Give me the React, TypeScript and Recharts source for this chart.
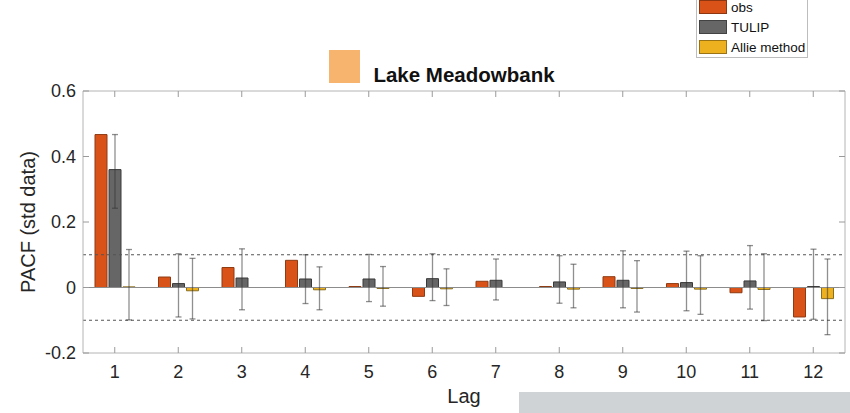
import { ComposedChart, Bar, Line, XAxis, YAxis, ReferenceLine, ErrorBar, Legend } from "recharts";

const lags = ["1", "2", "3", "4", "5", "6", "7", "8", "9", "10", "11", "12"];

const obs = [0.467, 0.032, 0.061, 0.083, 0.003, -0.027, 0.019, 0.003, 0.033, 0.012, -0.016, -0.09];

const tulip = [0.36, 0.012, 0.029, 0.026, 0.026, 0.027, 0.022, 0.017, 0.022, 0.015, 0.02, 0.003];
const tulipLow = [0.242, -0.09, -0.068, -0.049, -0.043, -0.04, -0.038, -0.048, -0.062, -0.071, -0.066, -0.097];
const tulipHigh = [0.467, 0.103, 0.118, 0.1, 0.101, 0.103, 0.087, 0.097, 0.112, 0.111, 0.128, 0.117];

const allie = [0.002, -0.01, 0, -0.007, -0.003, -0.004, 0, -0.005, -0.003, -0.005, -0.006, -0.034];
const allieLow = [-0.099, -0.096, -0.082, -0.068, -0.057, -0.055, -0.053, -0.062, -0.075, -0.082, -0.101, -0.144];
const allieHigh = [0.116, 0.089, 0.08, 0.063, 0.064, 0.057, 0.07, 0.071, 0.082, 0.097, 0.103, 0.087];

const seriesNames = ["obs", "TULIP", "Allie method"];
const yTicks = [-0.2, 0, 0.2, 0.4, 0.6];
const confBound = 0.1;

const FONT = '"Liberation Sans", Arial, Helvetica, sans-serif';
const AXIS_GREY = "#b4b4b4";
const TICK_GREY = "#9a9a9a";
const TICK_LEN = 6;
const LABEL_GAP = 12; // distance from axis line to tick label

const rows = lags.map((lag, i) => ({
  lag,
  obs: obs[i],
  tulip: tulip[i],
  tulipErr: [tulip[i] - tulipLow[i], tulipHigh[i] - tulip[i]],
  allie: allie[i],
  allieErr: [allie[i] - allieLow[i], allieHigh[i] - allie[i]],
}));

// matlab style ticks pointing into the plot box
const BottomTick = (p: any) => (
  <g>
    <line x1={p.x} x2={p.x} y1={p.y - LABEL_GAP} y2={p.y - LABEL_GAP - TICK_LEN} stroke={TICK_GREY} />
    <text x={p.x} y={p.y} dy="0.71em" textAnchor="middle" fill="#262626" fontSize={18} fontFamily={FONT}>
      {p.payload.value}
    </text>
  </g>
);

const LeftTick = (p: any) => (
  <g>
    <line y1={p.y} y2={p.y} x1={p.x + 7} x2={p.x + 7 + TICK_LEN} stroke={TICK_GREY} />
    <text x={p.x} y={p.y} dy="0.355em" textAnchor="end" fill="#262626" fontSize={18} fontFamily={FONT}>
      {p.payload.value}
    </text>
  </g>
);

const TopTick = (p: any) => (
  <line x1={p.x} x2={p.x} y1={p.y} y2={p.y + TICK_LEN} stroke={TICK_GREY} />
);

const RightTick = (p: any) => (
  <line y1={p.y} y2={p.y} x1={p.x} x2={p.x - TICK_LEN} stroke={TICK_GREY} />
);

// legend box in the top right corner, cut off at the top like the original
const renderLegend = (props: any) => {
  const items = (props.payload || [])
    .filter((p: any) => p.type !== "none" && seriesNames.includes(p.value))
    .sort((a: any, b: any) => seriesNames.indexOf(a.value) - seriesNames.indexOf(b.value));
  return (
    <div
      style={{
        width: 112,
        height: 61,
        boxSizing: "border-box",
        borderLeft: "1px solid #bdbdbd",
        borderRight: "1px solid #bdbdbd",
        borderBottom: "1px solid #bdbdbd",
        background: "#fff",
        fontFamily: FONT,
      }}
    >
      {items.map((item: any, i: number) => (
        <div key={i} style={{ display: "flex", alignItems: "center", height: 20, marginTop: i === 0 ? -1 : 0 }}>
          <div
            style={{
              width: 28,
              height: 14,
              flex: "0 0 28px",
              marginLeft: 2,
              marginRight: 4,
              background: item.color,
              border: "1px solid rgba(0,0,0,0.35)",
              boxSizing: "border-box",
            }}
          />
          <span style={{ fontSize: 13.5, color: "#111", whiteSpace: "nowrap" }}>{item.value}</span>
        </div>
      ))}
    </div>
  );
};

export default function App() {
  return (
    <div
      style={{
        position: "absolute",
        left: 0,
        top: 0,
        width: 850,
        height: 413,
        background: "#fff",
        fontFamily: FONT,
        overflow: "hidden",
      }}
    >
      {/* stray swatch next to the title */}
      <div style={{ position: "absolute", left: 329, top: 50, width: 31, height: 33, background: "#f6b46e" }} />
      {/* grey strip at the bottom right */}
      <div style={{ position: "absolute", left: 519, top: 392, width: 331, height: 21, background: "#d0d3d5" }} />

      <div
        style={{
          position: "absolute",
          left: 83,
          width: 762,
          top: 63,
          textAlign: "center",
          fontSize: 20.5,
          fontWeight: "bold",
          color: "#111",
        }}
      >
        Lake Meadowbank
      </div>
      <div
        style={{
          position: "absolute",
          left: 83,
          width: 762,
          top: 385,
          textAlign: "center",
          fontSize: 20,
          color: "#262626",
        }}
      >
        Lag
      </div>
      <div
        style={{
          position: "absolute",
          left: 28,
          top: 222,
          transform: "translate(-50%, -50%) rotate(-90deg)",
          whiteSpace: "nowrap",
          fontSize: 20,
          color: "#262626",
        }}
      >
        PACF (std data)
      </div>

      <div style={{ position: "absolute", left: 0, top: 0 }}>
        <ComposedChart
          width={850}
          height={413}
          data={rows}
          margin={{ top: 86, right: 0, bottom: 0, left: 23 }}
          barSize={12}
          barGap={2}
        >
          <XAxis
            dataKey="lag"
            height={60}
            stroke={AXIS_GREY}
            tickLine={false}
            tickSize={0}
            tickMargin={LABEL_GAP}
            tick={BottomTick}
            interval={0}
          />
          <XAxis
            xAxisId="top"
            dataKey="lag"
            orientation="top"
            height={5}
            stroke={AXIS_GREY}
            tickLine={false}
            tickSize={0}
            tickMargin={0}
            tick={TopTick}
            interval={0}
          />
          <YAxis
            type="number"
            domain={[-0.2, 0.6]}
            ticks={yTicks}
            width={60}
            stroke={AXIS_GREY}
            tickLine={false}
            tickSize={0}
            tickMargin={7}
            tick={LeftTick}
            allowDataOverflow
          />
          <YAxis
            yAxisId="right"
            type="number"
            orientation="right"
            domain={[-0.2, 0.6]}
            ticks={yTicks}
            width={5}
            stroke={AXIS_GREY}
            tickLine={false}
            tickSize={0}
            tickMargin={0}
            tick={RightTick}
            allowDataOverflow
          />
          <ReferenceLine y={0} stroke="#8c8c8c" strokeWidth={1} />
          <ReferenceLine y={confBound} stroke="#555" strokeDasharray="3 3" strokeWidth={1} />
          <ReferenceLine y={-confBound} stroke="#555" strokeDasharray="3 3" strokeWidth={1} />
          <Legend
            layout="vertical"
            align="center"
            verticalAlign="middle"
            content={renderLegend}
            wrapperStyle={{ left: 696, top: -2, width: 112, height: 61 }}
          />
          {/* invisible helper so the top and right box axes get their ticks */}
          <Line
            xAxisId="top"
            yAxisId="right"
            dataKey="obs"
            name="axis helper"
            stroke="none"
            dot={false}
            activeDot={false}
            legendType="none"
            isAnimationActive={false}
          />
          <Bar dataKey="obs" name="obs" fill="#d95319" stroke="#8f3a12" strokeWidth={1} isAnimationActive={false} />
          <Bar dataKey="tulip" name="TULIP" fill="#666666" stroke="#3a3a3a" strokeWidth={1} isAnimationActive={false}>
            <ErrorBar dataKey="tulipErr" width={3} stroke="#333" strokeOpacity={0.55} strokeWidth={1.3} />
          </Bar>
          <Bar dataKey="allie" name="Allie method" fill="#edb120" stroke="#8a6d1f" strokeWidth={1} isAnimationActive={false}>
            <ErrorBar dataKey="allieErr" width={3} stroke="#333" strokeOpacity={0.55} strokeWidth={1.3} />
          </Bar>
        </ComposedChart>
      </div>
    </div>
  );
}
